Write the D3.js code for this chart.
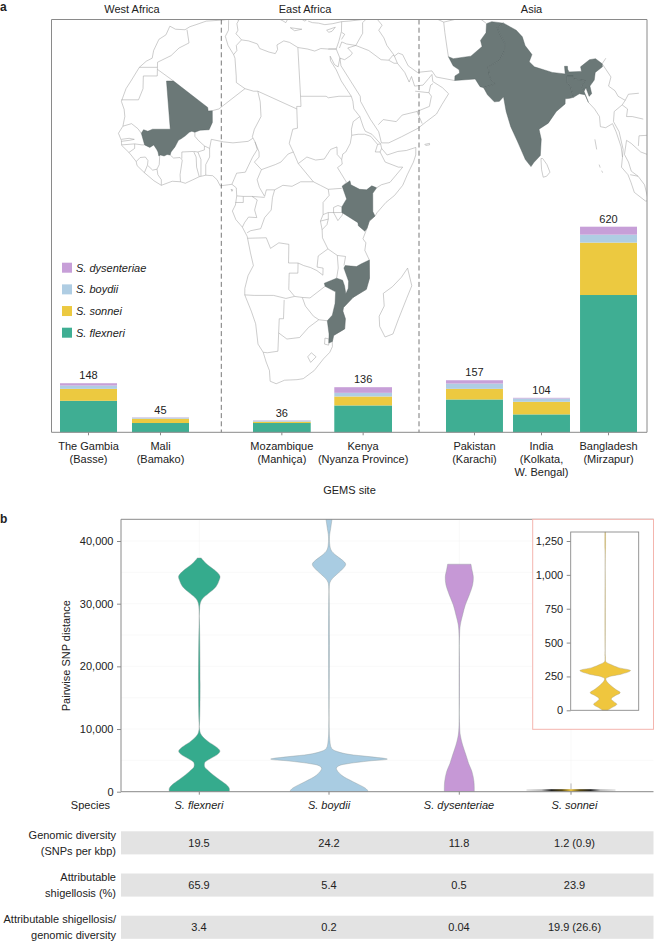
<!DOCTYPE html>
<html><head><meta charset="utf-8">
<script src="https://cdn.jsdelivr.net/npm/d3@7/dist/d3.min.js"></script>
<style>html,body{margin:0;padding:0;background:#fff}svg{display:block}text{font-family:"Liberation Sans",Arial,sans-serif;fill:#222}</style>
</head><body><div id="c"></div>
<script>
// ---------- panel a data ----------
const regionNames = ["West Africa","East Africa","Asia"];
const sitesWest = ["The Gambia","Mali"];
const sitesEast = ["Mozambique","Kenya"];
const sitesAsia = ["Pakistan","India","Bangladesh"];
const siteLabels = {"The Gambia":["The Gambia","(Basse)"],"Mali":["Mali","(Bamako)"],"Mozambique":["Mozambique","(Manhiça)"],"Kenya":["Kenya","(Nyanza Province)"],"Pakistan":["Pakistan","(Karachi)"],"India":["India","(Kolkata,","W. Bengal)"],"Bangladesh":["Bangladesh","(Mirzapur)"]};
const speciesStack = ["S. flexneri","S. sonnei","S. boydii","S. dysenteriae"];
const flexneriCounts = {"The Gambia":95,"Mali":28,"Mozambique":28,"Kenya":81,"Pakistan":99,"India":54,"Bangladesh":414};
const sonneiCounts = {"The Gambia":36,"Mali":13,"Mozambique":4,"Kenya":27,"Pakistan":32,"India":38,"Bangladesh":158};
const boydiiCounts = {"The Gambia":10,"Mali":3,"Mozambique":3,"Kenya":11,"Pakistan":16,"India":10,"Bangladesh":24};
const dysenteriaeCounts = {"The Gambia":7,"Mali":1,"Mozambique":1,"Kenya":17,"Pakistan":10,"India":2,"Bangladesh":24};
const totals = {"The Gambia":148,"Mali":45,"Mozambique":36,"Kenya":136,"Pakistan":157,"India":104,"Bangladesh":620};
const legendOrder = ["S. dysenteriae","S. boydii","S. sonnei","S. flexneri"];

// ---------- map data: [longitude, latitude] ----------
const coastAfrica = [[-5.9,35.8],[-4.5,35.2],[-2.2,35.1],[-1,35.7],[0.5,36.1],[3,36.8],[7,37],[9.8,37.3],[11,37],[10.5,36.3],[10.7,35],[10.2,34.3],[10.9,33.7],[11.5,33.1],[13.2,32.9],[15.3,32.3],[15.8,31.4],[18,30.7],[19.5,30.4],[20.1,31.2],[20,32.1],[21.7,32.9],[23.1,32.6],[25,31.6],[27.3,31.3],[29,30.9],[30.5,31.4],[32.3,31.3],[34.2,31.3],[34.9,29.5],[34.3,27.8],[33.5,28.2],[32.6,29.9],[32.6,29],[33.8,27.2],[34.8,25],[35.5,24],[36.9,22],[37.2,21],[37.3,19.5],[38.6,18],[39.3,15.9],[39.7,15.1],[41.2,14.5],[43.1,12.6],[43.3,11.7],[44.5,10.4],[47,11.1],[49,11.3],[51.2,11.9],[51.1,10.4],[50.5,9],[49,6.5],[47.9,4.4],[46,2.4],[44,1],[42,-1],[41.5,-1.7],[40.2,-2.7],[39.7,-4.1],[38.8,-6.2],[39.5,-7],[39.3,-8.5],[40.4,-10.4],[40.6,-14],[40,-16.2],[37,-17.8],[34.9,-19.8],[34.8,-20.5],[35.5,-22],[35.5,-24],[33,-25.3],[32.8,-26.5],[32.9,-27.5],[32.4,-28.6],[31,-29.9],[29,-32.2],[26.5,-33.8],[25,-34],[22,-34.1],[20,-34.8],[18.5,-34.3],[18.2,-32.2],[17.3,-30.5],[16.5,-28.6],[15.2,-27],[14.5,-23],[13.4,-20.5],[11.8,-17.3],[11.8,-16],[12.5,-13.5],[13.7,-11.5],[13,-9],[12.3,-6.1],[12.2,-5.7],[11.1,-3.9],[9.6,-2.4],[8.8,-0.7],[9.5,0.5],[9.8,2.3],[9.7,3.9],[8.7,4.6],[7,4.4],[6,4.3],[5.3,5.5],[4.3,6.3],[2.7,6.4],[1.2,6.1],[0,5.6],[-2,4.8],[-3.1,5.1],[-5,5.2],[-7.5,4.4],[-9.2,5.3],[-11.4,6.9],[-13.1,8.3],[-13.3,9.1],[-14.5,10.4],[-15,10.9],[-16.7,12.3],[-16.8,13.3],[-17.5,14.7],[-16.5,16.1],[-16.1,18],[-16.3,19.4],[-17,21],[-16,23.5],[-14.9,25],[-13,27.7],[-11.4,28.9],[-10,29.5],[-9.7,31],[-8.5,33.2],[-6.8,34.1],[-5.9,35.8]];
const coastAsia = [[36.2,36.7],[34,36.3],[32,36.1],[30.5,36.4],[29,36.5],[28,36.8]];
const coastLevant = [[32.3,31.3],[34.2,31.3],[35,32.8],[35.9,34.8],[36.2,36.7]];
const coastArabia = [[34.9,29.5],[35,28],[37,25],[39,22],[39,21],[41,17.5],[42.8,15],[43.3,12.8],[45,12.8],[48,14],[52,15.7],[54,17],[56.5,18.5],[58,20.4],[59.8,22.5],[58.5,23.7],[56.4,24.9],[56.4,26.3],[55.5,25.5],[54,24.2],[52,24],[51.5,25.9],[50.8,24.8],[50,26.7],[48.5,28.5],[48,29.9],[49,30.5],[50,30.2],[51,28],[53,26.7],[56.5,27],[57.3,25.8],[61.6,25.1]];
const coastIndochina = [[92.3,20.8],[93.5,19.5],[94.4,18],[94.3,16],[95.5,15.8],[97.2,16.6],[97.8,15],[98.6,12],[98.7,10],[98.3,8],[99.7,6.5],[100.3,5],[101,3],[103.5,1.3],[104.2,1.3],[103.4,4.5],[102,6.2],[100.5,7.2],[100,9],[99.2,10.5],[100,13.3],[101,12.7],[103,11],[104.5,10.5],[105.5,8.7]];
const islands = [
 [[49.3,-12],[50.5,-15.5],[49.5,-18],[48,-22],[47,-25],[45.2,-25.6],[43.7,-23.5],[43.4,-21.5],[44.4,-19.5],[44,-17],[46,-15.7],[48,-13.8],[49.3,-12]],
 [[79.9,9.7],[80.3,9.7],[81.2,8.5],[81.8,7],[81,6.2],[80.2,6],[79.9,7.5],[79.9,9.7]],
 [[53.3,12.5],[54.4,12.7],[54.4,12.4],[53.5,12.3],[53.3,12.5]],
 [[8.5,3.6],[8.9,3.5],[8.7,3.2],[8.5,3.6]],
 [[23.5,35.5],[26.3,35.2],[24.5,34.9],[23.5,35.5]],
 [[32.3,35],[34.5,35.6],[33.6,34.8],[32.8,34.6],[32.3,35]],
 [[92.7,13.5],[92.9,11.5]],[[93.2,8.5],[93.4,7.9]],[[93.7,7.3],[93.9,6.9]],
 [[20.5,37.4],[21.7,36.9],[22.5,36.5],[23.1,37.3]],[[26,37.4],[27.2,36.8],[28,37.3]]
];
const borders = [
 [[-1.7,35.1],[-1.2,32.5],[-3.6,31.5],[-5.5,30],[-8.7,28.7],[-8.7,27.7]],
 [[-13,27.7],[-8.7,27.7],[-8.7,26],[-12,26],[-12,23.5],[-13,21.3],[-17,21.3]],
 [[-8.7,27.3],[-4.83,25]],
 [[-16.5,16.1],[-14.5,16.6],[-13,15.6],[-12.2,14.7]],
 [[-16.8,13.5],[-15,13.7],[-13.8,13.5],[-15,13.3],[-16.8,13.1]],
 [[-16.7,12.4],[-13.7,12.6],[-12,12.4],[-11.4,12.4]],
 [[-13.7,12.6],[-13.7,11.7],[-15,10.9]],
 [[-13.3,9.1],[-12.4,9.9],[-11.2,10],[-10.6,9.3],[-10.7,8.4],[-11.4,6.9]],
 [[-10.6,8.3],[-9.5,7.4],[-8.5,7.6],[-8.3,6.5],[-7.5,5.5],[-7.5,4.4]],
 [[-8.5,7.6],[-8,8.5],[-7.9,10.2]],
 [[-5.5,10.4],[-4.7,9.8],[-3.2,9.9],[-2.7,9.4],[-3.2,6.5],[-3.1,5.1]],
 [[-2.8,9.7],[-2.8,11],[-0.1,11.1],[0.5,10],[0.6,8],[1.2,6.1]],
 [[0,11.1],[0.9,11],[1.6,9.5],[1.6,6.2]],
 [[2.7,6.4],[2.7,8.5],[3.6,10],[3.6,11.7]],
 [[0.2,14.9],[0.2,14.1],[1,13.3],[2.4,12.2],[3.6,11.7]],
 [[0.9,11],[2.4,11.4],[2.4,12.2]],
 [[3.6,11.7],[4,13.5],[6.8,13],[9,12.8],[12.5,13.1],[13.6,13.7]],
 [[4.27,19.16],[5.8,19.5],[12,23.5],[14,23],[15,23]],
 [[15,23],[15.5,20.9],[15.6,18],[14,15.5],[13.5,14],[14.1,13]],
 [[12,23.5],[10,24.7],[10,26],[9.8,29.5],[9.5,30.2],[10.3,31],[10.2,32],[11.5,33.1]],
 [[9.5,30.2],[8.2,32],[7.6,33.8],[8.4,35],[8.5,37]],
 [[15,23],[24,19.5],[24,20],[25,20],[25,22],[25,31.6]],
 [[25,22],[31,22],[31.5,21.7],[34,22],[36.9,22]],
 [[24,19.5],[24,15.7],[22.9,15.5],[22,12.7],[22.9,11],[24,8.7],[27.4,5.1]],
 [[8.7,4.6],[9.8,6.8],[11.8,7],[13.5,10],[14.6,11.5],[14.1,13]],
 [[14.1,13],[15,11],[15,10],[13.9,9],[15.5,7.5],[18.7,8.5],[20,9],[21.7,10.6],[22.9,11]],
 [[15.5,7.5],[14.5,5.5],[15,4],[16.2,2.2],[16.6,3.5],[18.5,3.5],[20.4,4.4],[22.5,4.2],[24.5,5.1],[27.4,5.1],[29,4.4],[30.8,3.6]],
 [[24,8.7],[26,10],[28,9.4],[30,9.6],[31.5,11.5],[33,12],[33,10.5],[34,9.5]],
 [[9.8,2.3],[11.3,2.2],[11.3,1],[9.5,1]],
 [[11.3,2.2],[13.3,2.2],[16.2,2]],
 [[13.3,2.2],[14.5,1.5],[13.9,-0.5],[14.4,-2],[12.5,-1.9],[11.6,-3],[11.1,-3.9]],
 [[12.2,-5],[13,-4.6],[15.3,-4.2],[16.2,-2],[17.7,-0.5],[18,2],[18.5,3.5]],
 [[12.3,-6.1],[16.6,-6],[17.6,-8.1],[19.5,-7],[21.8,-7.3],[21.8,-11],[24,-11],[24,-13],[22,-13],[22,-16.2],[23.4,-17.6]],
 [[11.8,-17.3],[14,-17.4],[18.5,-17.4],[21.4,-18],[23.4,-17.6],[25.2,-17.8]],
 [[21,-18.3],[21,-22],[20,-22],[20,-28.4]],
 [[16.5,-28.6],[17.5,-28.7],[20,-28.4]],
 [[20,-24.8],[22,-26],[25,-25.7],[27,-23.7],[29.3,-22.2],[31.3,-22.4]],
 [[25.2,-17.8],[26,-19.5],[28,-21.5],[29.3,-22.2]],
 [[25.2,-17.8],[27,-17.9],[30.4,-15.6]],
 [[27.2,-29.5],[28,-28.7],[29.2,-29.5],[28,-30.6],[27.2,-29.5]],
 [[31,-25.8],[32,-26],[32,-27.2],[31,-27],[31,-25.8]],
 [[33,-14],[33.3,-12],[33,-9.5],[34.9,-9.7],[34.6,-11.5]],
 [[24,-11],[25.3,-11.5],[26.9,-11.9],[28.4,-12.5],[29.8,-13.4],[29.8,-12],[28.4,-11.8],[28.6,-9.6],[30.8,-8.2],[33,-9.5]],
 [[30.8,-8.2],[29.5,-6],[29.4,-4.4],[29,-2.7],[29.6,-1.4],[29.6,1],[31,2.4],[30.8,3.6],[33.9,3.8]],
 [[29,-2.7],[30.8,-2.3],[30.8,-1],[29.6,-1.4]],
 [[29.4,-4.4],[30.5,-3.4],[30.8,-2.3]],
 [[30.8,-1],[33.9,-1]],
 [[32,-1],[33,-2.6],[34,-1.5],[34.3,0],[33,0.4],[32,0],[32,-1]],
 [[34,4.2],[35,5],[33,7.9],[34.1,8.6],[34,9.5],[34.3,10.6],[35,11],[36.1,12.7],[36.5,14.3],[36.5,15.5],[37,17],[38.6,18]],
 [[36.5,14.3],[38,14.5],[39.5,14.5],[40.9,14.1],[42.4,12.5],[43.1,12.6]],
 [[42.4,12.5],[41.8,11],[42.9,11],[43.3,11.7]],
 [[42.9,11],[44,9],[47,8],[48,8],[45,5],[43,4.5],[41.9,3.9]],
 [[34.9,29.5],[36,29.2],[37.5,30],[38,30.5],[37,31.5],[39,32]],
 [[39,32],[36.8,32.3],[35.7,32.7],[35,31.5]],
 [[39,32],[42,31],[44.7,29.2],[46.5,29.1],[47.7,28.5],[48.5,28.5]],
 [[46.5,29.1],[47.7,30.1],[48,29.9]],
 [[48,30],[46.5,32],[46,33.5],[45,35],[46,36],[44.8,37.4]],
 [[39,32],[41,34.4],[41.3,36.5],[42.3,37.2]],
 [[36.2,36.7],[38,36.8],[42.3,37.2]],
 [[35.9,34.6],[36.6,34.2],[35.7,33.2]],
 [[42.8,16.4],[44,17.4],[47,17],[48.5,18.3],[52,19],[55,20],[55.7,22],[55.2,22.7],[52,23]],
 [[55.2,22.7],[55.8,24.2],[56.4,24.5]],
 [[52,19],[53,16.6]],
 [[60.9,29.8],[60.9,31.5],[61,34.5],[61.2,36.6]],
 [[53.9,37.4],[55,37.9],[57,38.2],[59,37.5],[61.2,36.6],[65,37.3],[70,37.5],[71.5,36.4]],
 [[92.7,22],[93.2,23]],
 [[97.3,28.4],[98.7,25.8],[97.7,24],[99,23.1],[99.5,22],[101,21.2],[100.1,20.3],[98,19],[97.5,17],[98.5,15],[99,11.5],[98.7,10]],
 [[97.3,28.4],[98.5,29.5]],
 [[101,21.2],[102,22.4],[104.5,22.6]],
 [[100.1,20.3],[101.2,19.5],[100.7,18],[102,18],[104.5,17.5]],
 [[105,14.3],[103,14.2],[102.6,12.2]],
 [[100.2,6.5],[102,6.2]]
];
const countryMali = [[-6.5,25],[-4.83,25],[1.17,21.12],[3.2,19.8],[3.3,19.1],[4.27,19.16],[4.27,16.85],[3.5,15.4],[1.4,15.3],[0.2,14.9],[-0.5,15.1],[-1.1,14.9],[-2,14.2],[-3,13.6],[-3.6,13.3],[-4.4,12],[-5.3,11],[-5.5,10.4],[-6.2,10.5],[-6.9,10.2],[-7.7,10.4],[-8.1,10.2],[-8.3,11],[-8.6,11.5],[-9.3,12.4],[-10.2,11.9],[-11.4,12.4],[-12.2,14.7],[-11.7,15.4],[-10.7,15.1],[-9.6,15.5],[-5.5,15.5]];
const countryKenya = [[33.9,-1],[37.6,-3],[37.7,-3.6],[39.2,-4.7],[39.7,-4.1],[40.2,-2.7],[41.5,-1.7],[41,-0.8],[41,2.8],[41.9,3.9],[40.8,4.3],[39.6,3.5],[38,3.6],[36,4.5],[35.8,5.3],[34,4.2],[35,1.7],[34.5,1],[33.9,0.1]];
const countryMozambique = [[40.4,-10.4],[40.6,-14],[40,-16.2],[37,-17.8],[34.9,-19.8],[34.8,-20.5],[35.5,-22],[35.5,-24],[33,-25.3],[32.8,-26.5],[32,-26.8],[31.9,-25],[31.3,-22.4],[32.4,-21.3],[32.9,-19],[32.9,-16.7],[30.4,-15.6],[30.2,-15],[33,-14],[34.4,-14.4],[34.9,-15.5],[35.3,-17.1],[35.8,-16],[35.8,-14.6],[34.6,-12],[34.9,-11.5],[37.5,-11.7],[38.5,-11.2]];
const countryPakistan = [[61.6,25.1],[66.5,25.4],[67.4,23.9],[68.2,23.7],[71,24.4],[70,25.7],[70,27.8],[72.9,29],[73.9,30.1],[74.6,31],[75,32.5],[74.3,34.3],[74.2,34.7],[74,35.5],[75.8,36.4],[73,36.7],[71.6,36.3],[71,34.5],[69.3,33],[69.4,31.8],[66.3,29.9],[62,29.4],[60.9,29.8],[61.7,28],[63,27.2],[63,26.6],[61.8,26]];
const countryIndia = [[68.2,23.7],[68.9,22.3],[70.3,20.9],[71.5,21],[72.6,21.9],[72.8,19],[73.5,16],[74.8,13],[76.3,9.5],[77.5,8.1],[78.2,8.9],[79.8,10.3],[80.3,13.5],[80,15.5],[82.3,16.7],[84.5,19],[86.8,20.5],[87,21.5],[88.1,21.6],[89,21.8],[88.7,24.2],[88.1,24.6],[88.4,26],[89.8,26],[89.8,25.4],[92.4,25.1],[91.3,24],[91.7,23],[92.3,23.7],[92.7,22],[93.4,22.5],[93.3,24],[94.6,25.2],[95.2,26.7],[97.2,27.8],[97.3,28.4],[96,29.4],[94.5,29.2],[92,27.8],[92,26.9],[89,26.8],[88.8,27.3],[88.9,27.9],[88.2,27.9],[88,26.4],[85,26.7],[81,27.8],[80,28.8],[81,30.2],[79.8,32],[79.6,33.7],[78.5,35],[75.8,36.4],[74,35.5],[74.2,34.7],[74.3,34.3],[75,32.5],[74.6,31],[73.9,30.1],[72.9,29],[70,27.8],[70,25.7],[71,24.4]];
const countryBangladesh = [[89,21.8],[88.7,24.2],[88.1,24.6],[88.4,26],[89.8,26],[89.8,25.4],[92.4,25.1],[91.3,24],[91.7,23],[92.3,20.8],[91.8,22.3],[90.5,22.5]];

// ---------- panel b data: [pairwise SNP distance, half density] ----------
const violinSpecies = ["S. flexneri","S. boydii","S. dysenteriae","S. sonnei"];
const violinFlexneri = [[0,90],[530,90],[1170,80],[1860,62],[2660,42],[3460,25],[4000,16],[4680,17],[5320,35],[5960,55],[6490,62],[7180,50],[7870,30],[8510,15],[9150,5],[10100,0.5],[28700,0.5],[30060,3],[30750,9],[31650,28],[32700,50],[33800,60],[34400,62],[35400,45],[36200,25],[37000,10],[37300,6]];
const violinBoydii = [[0,117],[270,115],[640,107],[1600,72],[2660,37],[3720,22],[4150,30],[4500,60],[4900,120],[5200,175],[5600,120],[5960,60],[6400,25],[6900,8],[8500,2],[10100,0.5],[32450,0.5],[33400,3],[34000,10],[34850,27],[35600,42],[36300,50],[36950,40],[37750,20],[38570,6],[39900,1.5],[41000,2],[42000,5],[43100,8],[44500,12]];
const violinDysenteriae = [[0,45],[1600,44],[3200,38],[4500,28],[5850,20],[7450,10],[9050,3],[11200,0.5],[24500,0.5],[26600,3],[28200,10],[29800,18],[31400,30],[33000,40],[34300,42],[35400,38],[36300,35]];
const violinSonnei = [[0,8],[20,20],[44,35],[64,26],[84,18],[108,30],[130,45],[157,30],[187,15],[212,5],[234,2],[248,12],[268,50],[293,76],[315,40],[340,15],[359,2],[396,0.5],[1171,0.5],[1196,1],[1316,1]];
const mainTicks = [0,10000,20000,30000,40000];
const insetTicks = [0,250,500,750,1000,1250];
const rowLabels = [["Genomic diversity","(SNPs per kbp)"],["Attributable","shigellosis (%)"],["Attributable shigellosis/","genomic diversity"]];
const rowGenomic = ["19.5","24.2","11.8","1.2 (0.9)"];
const rowAttributable = ["65.9","5.4","0.5","23.9"];
const rowRatio = ["3.4","0.2","0.04","19.9 (26.6)"];

// ---------- styles ----------
const colors = {"S. flexneri":"#3fae93","S. sonnei":"#ecc940","S. boydii":"#afcde3","S. dysenteriae":"#c79fd8"};
const vColors = {"S. flexneri":"#35ab8d","S. sonnei":"#efc63e","S. boydii":"#a9cce2","S. dysenteriae":"#c698d6"};
const mapFill = "#6b7877", axisC="#8a8a8a", fs=11;

const svg = d3.select("#c").append("svg").attr("width",654).attr("height",941);
const label = (sel,x,y,t,o={})=>sel.append("text").attr("x",x).attr("y",y).attr("dy","0.35em")
  .attr("text-anchor",o.anchor||"middle").attr("font-size",o.size||fs).attr("font-style",o.italic?"italic":null)
  .attr("font-weight",o.bold?"bold":null).text(t);

// ---- Panel a ----
const A = {left:51.5,right:647,top:19.5,bottom:432.3};
label(svg,0,7,"a",{anchor:"start",bold:true,size:12});
svg.append("defs").append("clipPath").attr("id","mapClip").append("rect")
  .attr("x",A.left).attr("y",A.top).attr("width",A.right-A.left).attr("height",A.bottom-A.top);
const proj = d3.geoNaturalEarth1().scale(287).translate([194,207.5]).precision(0.1);
const geoLine = d3.line().x(d=>proj(d)[0]).y(d=>proj(d)[1]);
const mapG = svg.append("g").attr("clip-path","url(#mapClip)");
const outline = [coastAfrica,coastAsia,coastLevant,coastArabia,coastIndochina,...islands,...borders];
mapG.selectAll("path.o").data(outline).join("path").attr("class","o").attr("d",geoLine)
  .attr("fill","none").attr("stroke","#9a9a9a").attr("stroke-width",0.5);
mapG.selectAll("path.c").data([countryMali,countryKenya,countryMozambique,countryPakistan,countryIndia,countryBangladesh]).join("path")
  .attr("class","c").attr("d",d=>geoLine(d)+"Z").attr("fill",mapFill).attr("stroke","#4f5b5a").attr("stroke-width",0.4);

regionNames.forEach((r,i)=>label(svg,[132,305,531.5][i],9.5,r));
const yBar = d3.scaleLinear().domain([0,620]).range([A.bottom,226.7]);
const mkBand=(dom,r,pi)=>d3.scaleBand().domain(dom).range(r).paddingInner(pi).paddingOuter(0);
const bandWest = mkBand(sitesWest,[60,189],0.208), bandEast = mkBand(sitesEast,[253,392],0.29), bandAsia = mkBand(sitesAsia,[446,637],0.15);
const allSites = [...sitesWest.map(s=>[s,bandWest]),...sitesEast.map(s=>[s,bandEast]),...sitesAsia.map(s=>[s,bandAsia])];
const stackRows = allSites.map(([s])=>({site:s,"S. flexneri":flexneriCounts[s],"S. sonnei":sonneiCounts[s],"S. boydii":boydiiCounts[s],"S. dysenteriae":dysenteriaeCounts[s]}));
const stacked = d3.stack().keys(speciesStack)(stackRows);
const bandOf = Object.fromEntries(allSites);
stacked.forEach(layer=>{
  svg.selectAll(null).data(layer).join("rect")
    .attr("x",d=>bandOf[d.data.site](d.data.site)).attr("width",d=>bandOf[d.data.site].bandwidth())
    .attr("y",d=>yBar(d[1])).attr("height",d=>yBar(d[0])-yBar(d[1])).attr("fill",colors[layer.key]);
});
// dashed separators
[221.3,419].forEach(x=>svg.append("line").attr("x1",x).attr("x2",x).attr("y1",A.top).attr("y2",A.bottom)
  .attr("stroke","#555").attr("stroke-width",0.8).attr("stroke-dasharray","5,3.2"));
// frame
svg.append("path").attr("d",`M${A.left},${A.bottom}V${A.top}H${A.right}V${A.bottom}Z`).attr("fill","none").attr("stroke",axisC).attr("stroke-width",1);
allSites.forEach(([s,b])=>{
  const cx=b(s)+b.bandwidth()/2;
  svg.append("line").attr("x1",cx).attr("x2",cx).attr("y1",A.bottom).attr("y2",A.bottom+3).attr("stroke",axisC);
  label(svg,cx,yBar(totals[s])-7.7,totals[s]);
  siteLabels[s].forEach((t,i)=>label(svg,cx,445.7+13*i,t));
});
label(svg,349.5,490,"GEMS site");
const legendY = d3.scalePoint().domain(legendOrder).range([262.7,327.7]);
legendOrder.forEach(s=>{
  svg.append("rect").attr("x",62).attr("y",legendY(s)).attr("width",10).attr("height",10).attr("fill",colors[s]);
  label(svg,76,legendY(s)+5,s,{anchor:"start",italic:true});
});

// ---- Panel b ----
const B={left:121,right:653.5,top:519.3,bottom:791.7};
label(svg,0,519,"b",{anchor:"start",bold:true,size:12});
svg.select("defs").append("clipPath").attr("id","bClip").append("rect").attr("x",B.left).attr("y",B.top).attr("width",B.right-B.left).attr("height",B.bottom-B.top);
const y = d3.scaleLinear().domain([0,40000]).range([B.bottom,541]);
const w = d3.scaleLinear().domain([0,90]).range([0,30]);
const vX = d3.scaleOrdinal().domain(violinSpecies).range([199.3,329,459.3,571]);
const tX = d3.scaleOrdinal().domain(violinSpecies).range([199,329,459,574.5]);
const grid = svg.append("g");
d3.range(0,45000,5000).forEach(v=>grid.append("line").attr("x1",B.left).attr("x2",B.right).attr("y1",y(v)).attr("y2",y(v)).attr("stroke","#f5f5f5").attr("stroke-width",0.6));
violinSpecies.forEach(s=>grid.append("line").attr("x1",vX(s)).attr("x2",vX(s)).attr("y1",B.top).attr("y2",B.bottom).attr("stroke","#f5f5f5").attr("stroke-width",0.6));
const violinData = {"S. flexneri":violinFlexneri,"S. boydii":violinBoydii,"S. dysenteriae":violinDysenteriae,"S. sonnei":violinSonnei};
const vArea=(cx,yS)=>d3.area().y(d=>yS(d[0])).x0(d=>cx-w(d[1])).x1(d=>cx+w(d[1])).curve(d3.curveCatmullRom.alpha(0.5));
const vg = svg.append("g").attr("clip-path","url(#bClip)");
violinSpecies.slice(0,3).forEach(s=>{
  vg.append("path").attr("d",vArea(vX(s),y)(violinData[s])).attr("fill",vColors[s]).attr("stroke","#8f9a9a").attr("stroke-width",0.4);
});
// S. sonnei in the main panel
const grad = svg.select("defs").append("linearGradient").attr("id","son");
[[0,"#e6e6e6"],[0.17,"#bbb"],[0.28,"#222"],[0.4,"#5a4a12"],[0.5,"#efc63e"],[0.6,"#5a4a12"],[0.72,"#222"],[0.83,"#bbb"],[1,"#e6e6e6"]].forEach(([o,c])=>grad.append("stop").attr("offset",o).attr("stop-color",c));
const sonX=vX("S. sonnei"), wS=d3.scaleLinear().domain([0,76]).range([0,44.5]);
vg.append("rect").attr("x",sonX-wS(76)).attr("width",2*wS(76)).attr("y",y(400)).attr("height",y(0)-y(400)).attr("fill","url(#son)");
vg.append("line").attr("x1",sonX).attr("x2",sonX).attr("y1",y(1316)).attr("y2",y(400)).attr("stroke","#888").attr("stroke-width",0.6);
// axis frame
svg.append("path").attr("d",`M${B.left},${B.bottom}V${B.top}H${B.right}`).attr("fill","none").attr("stroke",axisC).attr("stroke-width",1);
svg.append("line").attr("x1",B.left).attr("x2",B.right).attr("y1",B.bottom).attr("y2",B.bottom).attr("stroke",axisC).attr("stroke-width",1);
const axL = svg.append("g").attr("transform",`translate(${B.left},0)`).call(d3.axisLeft(y).tickValues(mainTicks).tickFormat(d3.format(",")).tickSize(4).tickPadding(3.5));
axL.select(".domain").remove(); axL.selectAll("line").attr("stroke",axisC);
axL.selectAll("text").attr("font-size",fs).attr("font-family",null);
svg.append("text").attr("transform","translate(66,655.7) rotate(-90)").attr("dy","0.35em").attr("text-anchor","middle").attr("font-size",fs).text("Pairwise SNP distance");
label(svg,110,805,"Species",{anchor:"end"});
violinSpecies.forEach(s=>{
  svg.append("line").attr("x1",vX(s)).attr("x2",vX(s)).attr("y1",B.bottom).attr("y2",B.bottom+3).attr("stroke",axisC);
  label(svg,tX(s),805,s,{italic:true});
});
// inset
svg.append("rect").attr("x",532.7).attr("y",B.top).attr("width",B.right-532.7).attr("height",729.3-B.top).attr("fill","#fff").attr("stroke","#f4b5ae").attr("stroke-width",1);
const I={left:570.7,right:638.7,top:532,bottom:710.3};
const yI=d3.scaleLinear().domain([0,1250]).range([I.bottom,541]);
const iCx=(I.left+I.right)/2+0.5;
svg.append("path").attr("d",vArea(iCx,yI)(violinSonnei)).attr("fill",vColors["S. sonnei"]).attr("stroke","#a8a080").attr("stroke-width",0.4);
svg.append("rect").attr("x",I.left).attr("y",I.top).attr("width",I.right-I.left).attr("height",I.bottom-I.top).attr("fill","none").attr("stroke",axisC).attr("stroke-width",0.9);
const axI = svg.append("g").attr("transform",`translate(${I.left},0)`).call(d3.axisLeft(yI).tickValues(insetTicks).tickFormat(d3.format(",")).tickSize(4).tickPadding(3.5));
axI.select(".domain").remove(); axI.selectAll("line").attr("stroke",axisC);
axI.selectAll("text").attr("font-size",fs).attr("font-family",null);

// table rows
const rowVals=[rowGenomic,rowAttributable,rowRatio];
const rowY = d3.scaleBand().domain(d3.range(rowVals.length)).range([831.3,938.8]).paddingInner(0.453);
rowVals.forEach((vals,i)=>{
  const top=rowY(i), h=rowY.bandwidth(), mid=top+h/2;
  svg.append("rect").attr("x",B.left).attr("y",top).attr("width",B.right-B.left).attr("height",h).attr("fill","#e3e3e3");
  vals.forEach((t,j)=>label(svg,tX(violinSpecies[j]),mid,t));
  rowLabels[i].forEach((t,k)=>label(svg,116,mid-8+16*k,t,{anchor:"end"}));
});
</script></body></html>
